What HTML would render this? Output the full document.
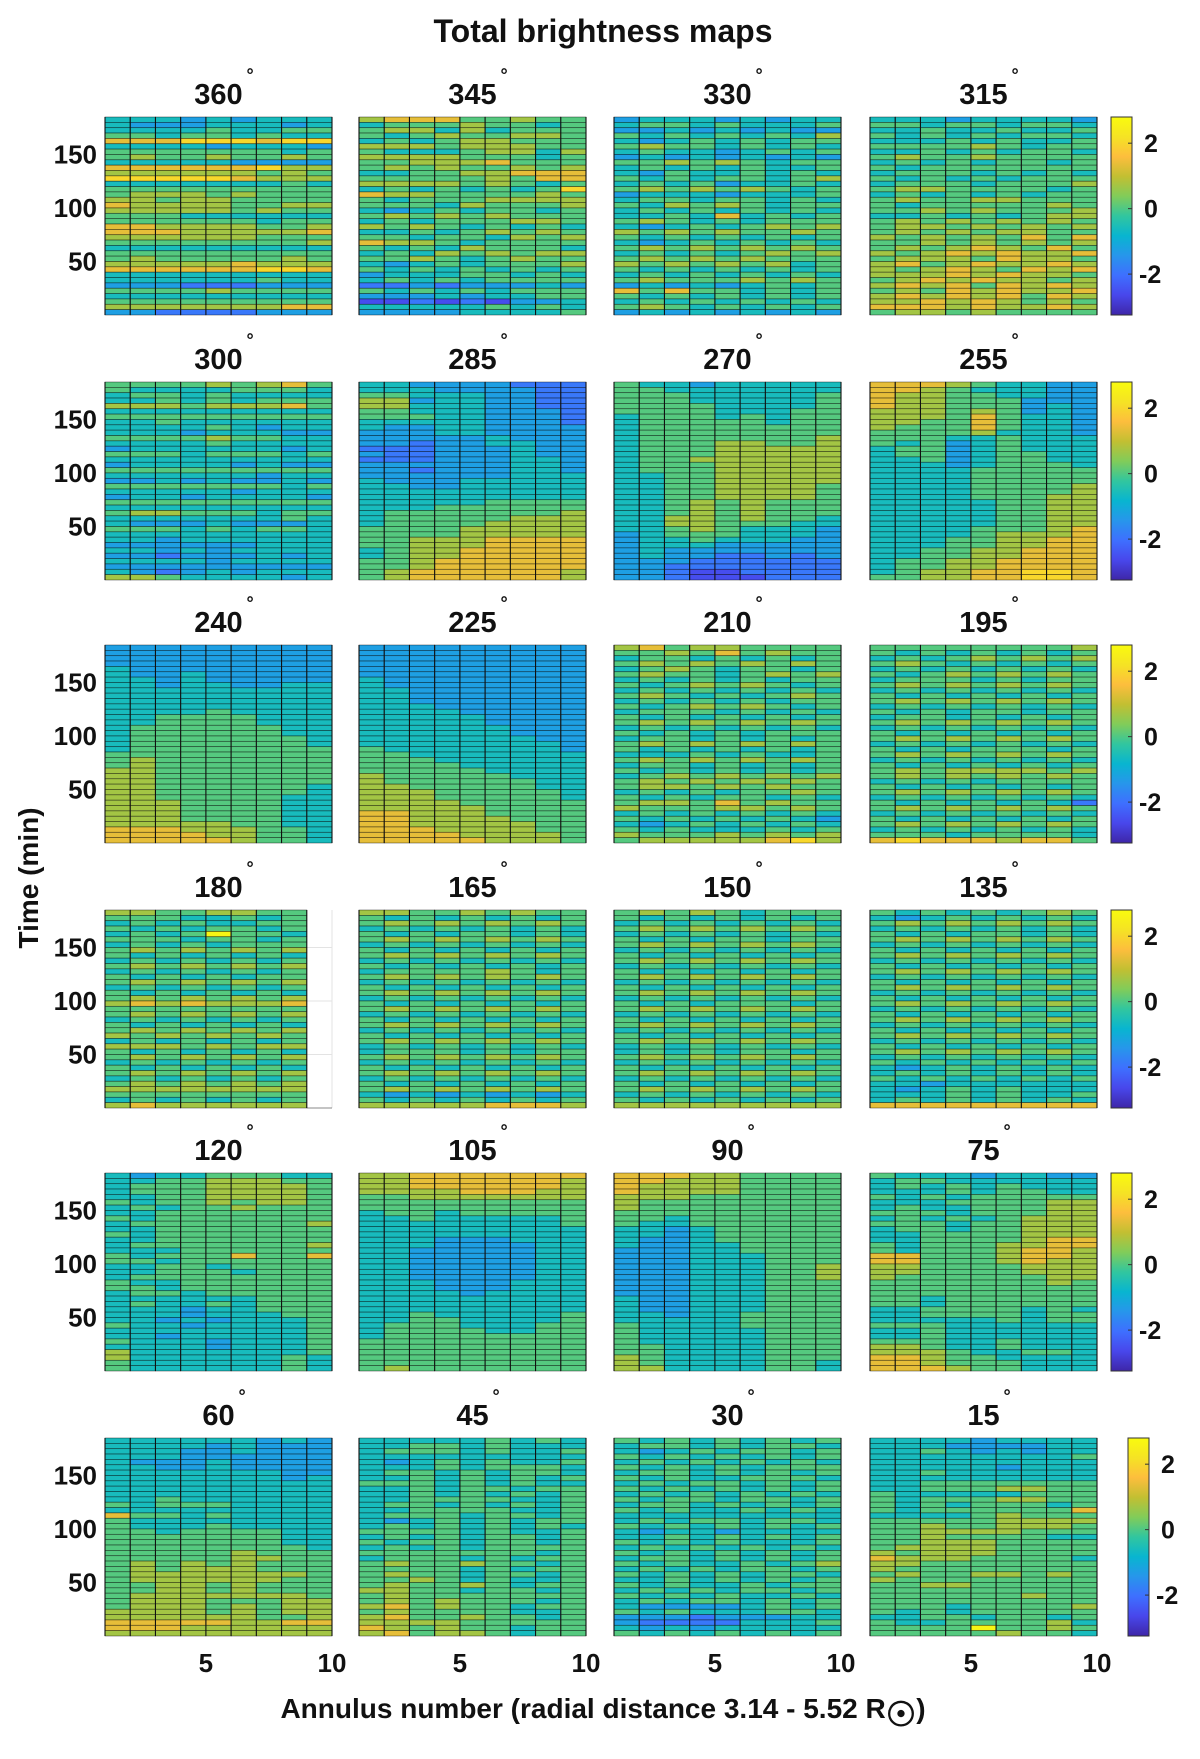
<!DOCTYPE html>
<html><head><meta charset="utf-8"><style>
body{margin:0;background:#fff}
svg text{font-family:"Liberation Sans",sans-serif;font-weight:bold;fill:#111}
</style></head><body>
<svg id="fig" width="1200" height="1754" viewBox="0 0 1200 1754" xmlns="http://www.w3.org/2000/svg">
<defs>
<linearGradient id="parula" x1="0" y1="1" x2="0" y2="0">
<stop offset="0" stop-color="#3e26a8"/><stop offset="0.1" stop-color="#4847eb"/><stop offset="0.2" stop-color="#3e6fff"/><stop offset="0.3" stop-color="#2796eb"/><stop offset="0.4" stop-color="#08b5d0"/><stop offset="0.5" stop-color="#31c69f"/><stop offset="0.6" stop-color="#81cc59"/><stop offset="0.7" stop-color="#c2bf32"/><stop offset="0.8" stop-color="#fdbe3d"/><stop offset="0.9" stop-color="#f5e324"/><stop offset="1" stop-color="#f9fb0e"/>
</linearGradient>
</defs>
<text x="603" y="42" font-size="32" text-anchor="middle">Total brightness maps</text>
<text x="0" y="0" font-size="28" text-anchor="middle" transform="translate(38,878) rotate(-90)">Time (min)</text>
<text x="603" y="1718" font-size="28" text-anchor="middle">Annulus number (radial distance 3.14 - 5.52 R<tspan font-size="34" dy="8">☉</tspan><tspan dy="-8">)</tspan></text>
<g id="panels"></g>
</svg>
<script>
const panelAngles=[360,345,330,315,300,285,270,255,240,225,210,195,180,165,150,135,120,105,90,75,60,45,30,15];
const yTicks=[50,100,150];
const xTicks=[5,10];
const cbTicks=[2,0,-2];
const P360="444343444 433344434 444454455 554554544 777888788 444434443 555555545 565565565 444443333 777777866 666666565 888887666 444444454 555555555 566656555 665665555 766665566 666665655 555444444 555555455 776666556 777666667 666666555 555555556 444444444 555555555 565555565 666667666 777777887 444444444 444444544 333222333 555565555 444444444 555555555 666666677 332222333";
const P345="677755655 455565545 566464555 545655665 454566555 666566655 544456646 666655545 556667555 565655656 445566777 555556577 666656545 454545458 766555565 545556666 555465556 434545545 565656555 454555665 656545454 445456565 554554656 766545555 545465554 454656566 556545655 434545556 545454545 344455454 454545555 223233343 545454555 333434455 112121334 444445454 333344445";
const P330="344434344 455454445 334343433 545454546 434545455 565545454 454434545 343434343 556565455 454545445 435445454 545455456 454534454 565656545 344434445 455455454 546565455 454545454 445474545 565454555 434545656 656565565 545454545 434545454 565656565 454545656 565656555 656565645 545454545 454545454 565556565 343434545 757554545 545454545 454545454 565454545 343434343";
const P315="444344443 554554554 445445445 545454554 444545445 555565455 445454554 565565555 454545545 545555555 455545454 545454555 455545556 566555545 454545455 565566555 545555565 556565556 445454566 565656565 566565656 565656655 656565757 556565656 565676575 656767667 566657665 675676676 656765767 666767665 567676656 676757676 565767667 676767576 667676565 777676676 566565555";
const P300="555565675 544445554 455454444 445454555 666566675 444444444 555555555 445444444 444454344 444344433 555565544 444454444 344444434 555455545 444444444 344443433 555555555 444444344 334343343 555555545 444443444 344344443 555555555 444444444 566555455 444444454 433343334 555454554 444444444 443444444 333333444 443434444 332333434 444434444 333333333 432343444 665444434";
const P285="443333222 444333322 554443322 663443322 664443322 554443332 555443332 444443332 433443333 333443333 333334333 332334433 222333433 322333433 222333443 333333443 332333443 333333444 433344444 443344444 444444444 444444444 444445555 444555555 455555556 455555666 455556666 555566666 555566666 556667777 556667777 456677777 456677777 556777777 556777777 567777776 567777776";
const P270="544344444 554444444 555444445 555444445 555544445 555544455 455545455 455555455 455555555 455555555 455555556 455566556 455566666 455566666 455666666 455566666 455566666 445566666 445566666 445566665 445566665 445566665 445656555 445656555 445656555 446656554 446655544 445654443 345554443 344544433 344433333 343333333 343322323 333222222 332222222 332112222 332111222";
const P255="777654433 776544433 766554433 766555333 766555343 666565343 666575443 665575443 655575443 555564443 555445444 545345444 455345444 455345544 445345544 444345554 444455555 444455555 444455555 444455556 444455556 444455566 444445566 444445566 444445566 444445566 444445566 444455567 444456667 444556677 444556677 445566777 445566777 455667777 455667777 456677887 556677887";
const P240="333333333 333333333 333333333 333333333 433333333 433433333 443433333 443443344 444444444 444444444 444444444 444444444 444454444 445555444 445555444 455555544 455555544 455555554 455555554 455555555 555555555 565555555 565555555 665555555 665555555 665555555 665555554 665555554 665555544 666555544 666555544 666555544 666555544 666665544 777666554 777766554 777776554";
const P225="333333333 333333333 333333333 333333333 333333333 333333333 433333333 433333333 443333333 443333333 443333333 444333333 444433333 444443333 444443333 444444333 444444333 444444433 444444443 544444443 554444444 555444444 555544444 555554444 655555444 655555544 665555544 666555554 666555554 666655555 666665555 776665555 776666555 776666655 777666655 777766665 777776665";
const P210="675665555 556575655 455454545 565656565 456545545 565545656 454545455 545656545 454545454 565454565 454545455 545656545 455545454 545454545 565656565 454545454 545454555 455454545 565656565 545454545 444545445 565656565 455454545 545454545 456565656 565656565 566565655 454545565 545455454 566575655 655566565 454545454 545454543 434545454 545444545 655565656 566666786";
const P195="555555556 545454545 454565656 565454545 454545454 545656565 455545455 565656565 454545454 545454545 565656565 454545454 545455455 455454545 565656565 454545454 545454545 565656565 454545454 545455545 565656565 454545454 545454545 565666656 565656565 454545555 545454545 565656565 454545454 545454542 565656565 454545454 545454545 565656565 454545454 555455554 787776775";
const P180="66556655 55544545 45454455 54545545 45459554 55545545 45454555 56565656 54545454 45454545 56565656 45454545 54545455 56565656 45454545 54545454 56565656 67676667 55555555 56565656 45454545 54545454 56565656 65656565 45454545 66656566 54545454 56565656 45454545 54545454 56565656 45454545 56565656 66666666 55555555 45454545 67666666";
const P165="665565655 545454545 565656565 454545454 545455454 565656565 454545454 545454545 565656565 454545454 545454545 455556545 565656565 454545454 545454545 565656565 454545454 545454545 565656565 454545454 545454545 565656565 454545454 545454545 565656565 454545454 455545455 565656565 454545454 545454545 565656565 454545454 545454545 565656565 434343434 545454545 666667776";
const P150="565654555 545454545 454545454 565656565 454545454 545455455 565656565 454545454 545454545 565656565 454545454 545454545 565656565 454545454 545454545 565656565 454545454 545455545 565656565 454545454 545454545 565656565 454545454 545454545 565656565 454545454 454545545 565656565 454545454 545454545 565656565 454545454 545454545 565656565 454545454 545454545 666666666";
const P135="545454565 434545454 565656565 454545454 545455454 565656565 454545454 545454545 565656565 454545454 545454545 565656565 454545454 545454545 565656565 454545454 545454545 565656565 454545454 545454545 565656565 454545454 545454545 565656565 454545454 545454545 565656565 454545454 545454545 434545454 454545454 545454545 443444444 434545444 444545445 454545454 777777777";
const P120="434455544 445566655 455566665 455566665 445566665 545565665 454556555 445555555 545555555 455555556 445555555 545555555 445555555 455555556 444555555 545557557 554555555 445545555 445554555 455555555 544555555 554555555 455455555 444444555 454454555 444344555 444344455 443434445 544344445 444444445 443444445 544434445 444434445 644444445 644444454 544444454 544444454";
const P105="667777777 667777776 667777776 666677766 556666666 555555555 555555555 455455555 445444445 444444445 444444444 444444444 444333444 444333344 443333344 443333344 443333344 443333344 443333344 443333344 444333444 444333444 444434444 444444444 444444444 444444444 445444445 445544445 455544455 455554455 455555555 555555555 555555555 555555555 555555555 555555555 565555555";
const P90="777665555 776665555 766665555 766665555 666555555 655555555 655555555 555555555 554555555 544555555 443455555 443455555 433455555 433445555 333445555 333444555 333444555 333444556 333444556 333444556 333444555 333444555 333444555 433444555 433444555 433444555 443445555 444445555 544445555 544444555 544444555 544444555 554444555 554444555 654444555 654444554 664444554";
const P75="544434433 455444444 454545444 444545544 545455555 444555566 454455566 555455566 454545666 555455666 455455666 445555666 445555677 545556677 545556776 775556776 775556766 665555666 665555666 655555566 555555565 555555555 555555555 554555555 554555555 445555454 445555455 444445455 555444444 445444444 445444444 555445444 665445444 666544554 776554444 776555444 777655444";
const P60="444444343 444434333 444334333 444333333 433343333 443343333 444444433 444444434 444444444 444444444 444444444 445444444 545554444 444444444 755454444 544444444 544454444 554555544 555555544 555555544 555555554 555556555 555556655 565656555 565666555 566666665 566666655 556656555 556656555 566666665 566655566 566656566 666656566 666666556 777776677 777666666 666666666";
const P45="444445454 445545444 455545445 444444444 434545445 444545554 455454554 445454545 555454544 445455455 445454545 445555445 455454545 445555445 455545545 434545455 454545454 555545445 454545545 545545545 454545555 555555545 455545455 565565545 555545455 565545545 556545445 565565455 665545545 565555555 565655545 675655455 565555445 675565545 666655555 765655455 675665455";
const P30="545454545 455454554 434545545 545454545 454545454 545454555 455454545 545445554 454554545 545454545 454545454 545545545 455454545 545445454 444444444 454554554 545454545 434434444 445454545 545454445 454545454 545454545 455454545 545445456 454545545 545454554 445454545 545445455 454545545 545454454 454554545 433334545 545444554 333233344 322224445 434344444 545454545";
const P15="444434444 444333344 445434344 444444445 444444444 444443444 445444444 444444444 445555555 445556655 544444555 545556655 545455545 545555557 444456555 555556666 556556665 556666555 556555544 556665555 566665555 656665555 766655554 665555555 655555555 565566565 655555555 556655555 555555555 555555655 555555555 555455556 545455555 445545545 544555564 555595565 555556554";
const panelData=[P360,P345,P330,P315,P300,P285,P270,P255,P240,P225,P210,P195,P180,P165,P150,P135,P120,P105,P90,P75,P60,P45,P30,P15];

const NS="http://www.w3.org/2000/svg";
const colLeft=[105,359,614,870], colW=227, rowTop=[117,382,645,910,1173,1438], rowH=198;
const Y0=0,Y1=185,X0=1,X1=10,VMIN=-3.25,VMAX=2.8;
const stops=[[0,[62,38,168]],[0.1,[72,71,235]],[0.2,[62,111,255]],[0.3,[39,150,235]],[0.4,[8,181,208]],[0.5,[49,198,159]],[0.6,[129,204,89]],[0.7,[194,191,50]],[0.8,[253,190,61]],[0.9,[245,227,36]],[1,[249,251,14]]];
function parula(v){let t=Math.max(0,Math.min(1,(v-VMIN)/(VMAX-VMIN)));for(let i=1;i<stops.length;i++){if(t<=stops[i][0]){const a=stops[i-1],b=stops[i];const f=(t-a[0])/(b[0]-a[0]);const c=a[1].map((x,k)=>Math.round(x+(b[1][k]-x)*f));return `rgb(${c})`;}}return 'rgb(249,251,14)';}
function digitVal(d){return d*0.65-3.2;}
function el(tag,attrs,parent){const e=document.createElementNS(NS,tag);for(const k in attrs)e.setAttribute(k,attrs[k]);parent.appendChild(e);return e;}
const root=document.getElementById('panels');
panelAngles.forEach((ang,p)=>{
  const r=Math.floor(p/4),c=p%4;
  const L=colLeft[c],T=rowTop[r];
  const xs=v=>L+(v-X0)/(X1-X0)*colW;
  const ys=v=>T+rowH-(v-Y0)/(Y1-Y0)*rowH;
  const g=el('g',{},root);
  
  
  const rows=panelData[p].split(' ');
  const n=rows.length, dt=(Y1-Y0)/n;
  const ncol=rows[0].length;
  if(ncol<9){
    const bg=el('g',{},g);
    
    
    yTicks.forEach(t=>{el('line',{x1:xs(X0+ncol),x2:xs(X1),y1:ys(t),y2:ys(t),stroke:'#e3e3e3','stroke-width':1},bg);});
    el('line',{x1:xs(X1),x2:xs(X1),y1:T,y2:T+rowH,stroke:'#e3e3e3','stroke-width':1},bg);
    el('line',{x1:xs(X0+ncol),x2:xs(X1),y1:T+rowH,y2:T+rowH,stroke:'#888','stroke-width':1},bg);
  }
  rows.forEach((row,i)=>{
    const tTop=Y1-i*dt;
    for(let j=0;j<row.length;j++){
      const v=digitVal(+row[j]);
      const x=xs(X0+j),w=xs(X0+j+1)-x,y=ys(tTop),h=ys(tTop-dt)-y;
      const rc=el('rect',{x:x,y:y,width:w,height:h,fill:parula(v),stroke:'rgba(0,0,0,0.55)','stroke-width':0.7},g);
      
      
    }
  });
  for(let j=0;j<=ncol;j++){el('line',{x1:xs(X0+j),x2:xs(X0+j),y1:T,y2:T+rowH,stroke:'#111','stroke-width':1.1},g);}
  const tt=el('text',{x:L+colW/2,y:T-13,'font-size':29,'text-anchor':'middle'},g);
  tt.textContent=String(ang);
  
  
  const dg=el('text',{x:L+colW/2+(String(ang).length*8+4),y:T-36,'font-size':18,'text-anchor':'start'},g);
  dg.textContent='°';
  
  
  if(c===0){yTicks.forEach(t=>{const tx=el('text',{x:L-8,y:ys(t)+9,'font-size':26,'text-anchor':'end'},g);tx.textContent=String(t);
    
    });}
  if(r===5){xTicks.forEach(t=>{const tx=el('text',{x:xs(t),y:1672,'font-size':26,'text-anchor':'middle'},g);tx.textContent=String(t);
    
    });}
  if(c===3){
    const cx=r===5?1128:1111,cw=21;
    const cb=el('g',{},root);
    
    
    el('rect',{x:cx,y:T,width:cw,height:rowH,fill:'url(#parula)',stroke:'#333','stroke-width':1},cb);
    const cy=v=>T+rowH-(v-VMIN)/(VMAX-VMIN)*rowH;
    cbTicks.forEach(t=>{el('line',{x1:cx+cw-4,x2:cx+cw,y1:cy(t),y2:cy(t),stroke:'#333'},cb);
      const tx=el('text',{x:cx+(t<0?28:33),y:cy(t)+9,'font-size':25},cb);tx.textContent=String(t);
      
      });
  }
});
</script>
</body></html>
